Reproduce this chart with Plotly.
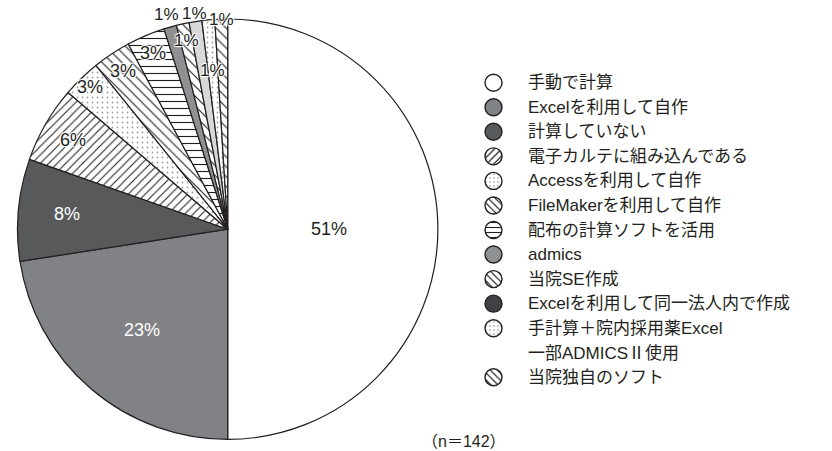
import math
import plotly.graph_objects as go

# ---- data -------------------------------------------------------------
categories = [
    "手動で計算",
    "Excelを利用して自作",
    "計算していない",
    "電子カルテに組み込んである",
    "Accessを利用して自作",
    "FileMakerを利用して自作",
    "配布の計算ソフトを活用",
    "admics",
    "当院SE作成",
    "Excelを利用して同一法人内で作成",
    "手計算＋院内採用薬Excel\n一部ADMICSⅡ使用",
    "当院独自のソフト",
]
shares = [51, 23, 8, 6, 3, 3, 3, 1, 1, 1, 1, 1]
sample_note = "（n＝142）"

# ---- styling ----------------------------------------------------------
W, H = 832, 451
CX, CY, R = 227.7, 229.2, 210.2          # pie centre / radius in pixels
INK = "#231f20"
LATIN = "Liberation Sans, Noto Sans CJK JP, sans-serif"

slice_fill = ["#ffffff", "#808285", "#58595b", "#ffffff", "#ffffff", "#ffffff",
              "#ffffff", "#8f9092", "#ffffff", "#d8d8d9", "#ffffff", "#ffffff"]
key_fill = list(slice_fill)
key_fill[9] = "#414042"
slice_shape = ["", "", "", "/", ".", "\\", "-", "", "\\", "", ".", "\\"]
slice_fg = [INK, INK, INK, INK, "#9a9a9a", INK, INK, INK, INK, INK, "#9a9a9a", INK]
slice_psize = [6, 6, 6, 6, 5, 7, 7, 6, 7, 6, 5, 7]
slice_solid = [0.2, 0.2, 0.2, 0.18, 0.1, 0.16, 0.16, 0.2, 0.16, 0.2, 0.1, 0.16]
key_psize = [4, 4, 4, 5, 4, 5, 5, 4, 5, 4, 4, 5]
key_solid = [0.2, 0.2, 0.2, 0.25, 0.14, 0.22, 0.22, 0.2, 0.22, 0.2, 0.14, 0.22]

label_r = [0.48, 0.63, 0.77, 0.85, 0.94, 0.90, 0.91, 1.06, 0.92, 1.04, 0.76, 1.0]
label_white = [False, True, True] + [False] * 9
label_size = [18, 18, 18, 18, 18, 18, 18, 17, 17, 17, 17, 17]
HALO = "1px 1px 1px #fff, -1px -1px 1px #fff, 1px -1px 1px #fff, -1px 1px 1px #fff"

KEY_X, KEY_Y0, KEY_STEP, KEY_D = 493.5, 82.7, 24.55, 17
TEXT_X = 526

fig = go.Figure()

# main pie
fig.add_trace(go.Pie(
    labels=[c.replace("\n", "") for c in categories],
    values=shares,
    sort=False,
    direction="clockwise",
    rotation=0,
    textinfo="none",
    hoverinfo="skip",
    showlegend=False,
    marker=dict(
        colors=slice_fill,
        line=dict(color=INK, width=1.2),
        pattern=dict(shape=slice_shape, fgcolor=slice_fg, bgcolor=slice_fill,
                     size=slice_psize, solidity=slice_solid),
    ),
    domain=dict(x=[(CX - R) / W, (CX + R) / W],
                y=[1 - (CY + R) / H, 1 - (CY - R) / H]),
))

# percentage labels, placed on each slice's mid angle
annotations = []
total = sum(shares)
cum = 0
for i, v in enumerate(shares):
    mid = (cum + v / 2) / total * 2 * math.pi
    cum += v
    px = CX + label_r[i] * R * math.sin(mid)
    py = CY - label_r[i] * R * math.cos(mid)
    font = dict(family=LATIN, size=label_size[i],
                color="#ffffff" if label_white[i] else INK)
    if not label_white[i] and i > 0:
        font["shadow"] = HALO
    annotations.append(dict(
        text=f"{v}%", x=px / W, y=1 - py / H, xref="paper", yref="paper",
        xanchor="center", yanchor="middle", showarrow=False, font=font,
    ))

# key: small circular swatches with category names
row = 0
for i, name in enumerate(categories):
    yc = KEY_Y0 + row * KEY_STEP
    fig.add_trace(go.Pie(
        values=[1], labels=[name.replace("\n", "")], sort=False,
        textinfo="none", hoverinfo="skip", showlegend=False,
        marker=dict(colors=[key_fill[i]], line=dict(color=INK, width=1.4),
                    pattern=dict(shape=slice_shape[i], fgcolor=slice_fg[i],
                                 bgcolor=key_fill[i], size=key_psize[i],
                                 solidity=key_solid[i])),
        domain=dict(x=[(KEY_X - KEY_D / 2) / W, (KEY_X + KEY_D / 2) / W],
                    y=[1 - (yc + KEY_D / 2) / H, 1 - (yc - KEY_D / 2) / H]),
    ))
    for line in name.split("\n"):
        yl = KEY_Y0 + row * KEY_STEP
        annotations.append(dict(
            text=line, x=TEXT_X / W, y=1 - yl / H, xref="paper", yref="paper",
            xanchor="left", yanchor="middle", showarrow=False,
            font=dict(family=LATIN, size=17, color=INK),
        ))
        row += 1

annotations.append(dict(
    text=sample_note, x=464 / W, y=1 - 441 / H, xref="paper", yref="paper",
    xanchor="center", yanchor="middle", showarrow=False,
    font=dict(family=LATIN, size=16, color=INK),
))

fig.update_layout(
    width=W, height=H,
    margin=dict(l=0, r=0, t=0, b=0),
    paper_bgcolor="#ffffff",
    plot_bgcolor="#ffffff",
    annotations=annotations,
)

fig.write_html("out.html")
